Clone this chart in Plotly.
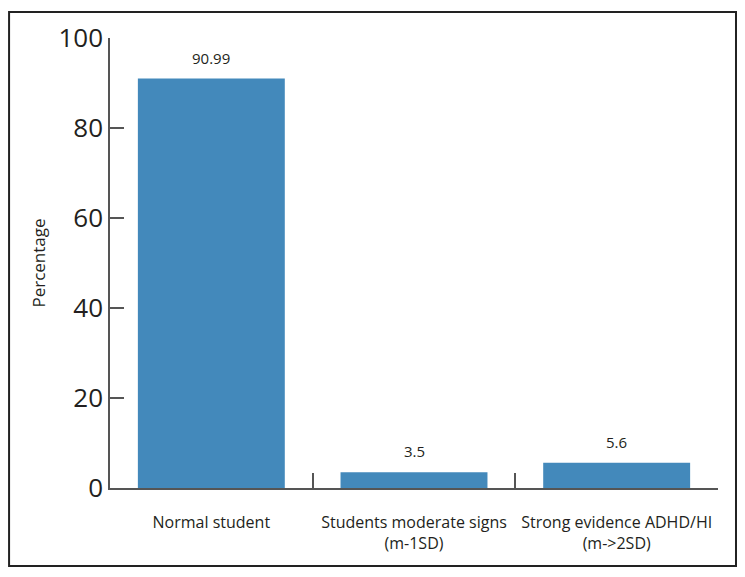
import plotly.graph_objects as go

categories = ["Normal student", "Students moderate signs<br>(m-1SD)", "Strong evidence ADHD/HI<br>(m->2SD)"]
values = [90.99, 3.5, 5.6]
value_labels = ["90.99", "3.5", "5.6"]
y_ticks = [0, 20, 40, 60, 80, 100]

FONT = "Open Sans, sans-serif"
AX = "#555555"
TXT = "#231f20"

fig = go.Figure(go.Bar(
    x=categories, y=values,
    marker=dict(color="#4389BB", line=dict(width=0)),
    width=0.725,
))

for c, v, t in zip(categories, values, value_labels):
    fig.add_annotation(x=c, y=v, text=t, showarrow=False, yanchor="bottom", yshift=9,
                       font=dict(size=15, color=TXT, family=FONT))

fig.update_layout(
    width=745, height=577,
    margin=dict(l=110, r=27, t=38, b=89, autoexpand=False),
    paper_bgcolor="white", plot_bgcolor="white",
    showlegend=False,
    font=dict(family=FONT, color=TXT),
    xaxis=dict(
        range=[-0.5, 2.5], showline=True, linecolor=AX, linewidth=1.5,
        ticks="inside", tickson="boundaries", ticklen=15, tickcolor=AX, tickwidth=1.5,
        tickfont=dict(size=16, color=TXT, family=FONT), showgrid=False,
        ticklabelstandoff=19, tickangle=0, automargin=False,
    ),
    yaxis=dict(
        range=[0, 100], tickvals=y_ticks, showline=True, linecolor=AX, linewidth=1.5,
        ticks="inside", ticklen=14, tickcolor=AX, tickwidth=1.5,
        tickfont=dict(size=26, color=TXT, family=FONT), showgrid=False, zeroline=False,
        ticklabelstandoff=0, automargin=False,
        title=dict(text="Percentage", font=dict(size=17, color=TXT, family=FONT), standoff=8),
    ),
    shapes=[dict(type="rect", xref="paper", yref="paper",
                 x0=-0.166, x1=1.0296, y0=-0.1733, y1=1.0578,
                 line=dict(color="#222222", width=2), fillcolor="rgba(0,0,0,0)", layer="below")],
)

fig.write_html("out.html", config={"displayModeBar": False},
               post_script="document.body.style.margin='0';")
